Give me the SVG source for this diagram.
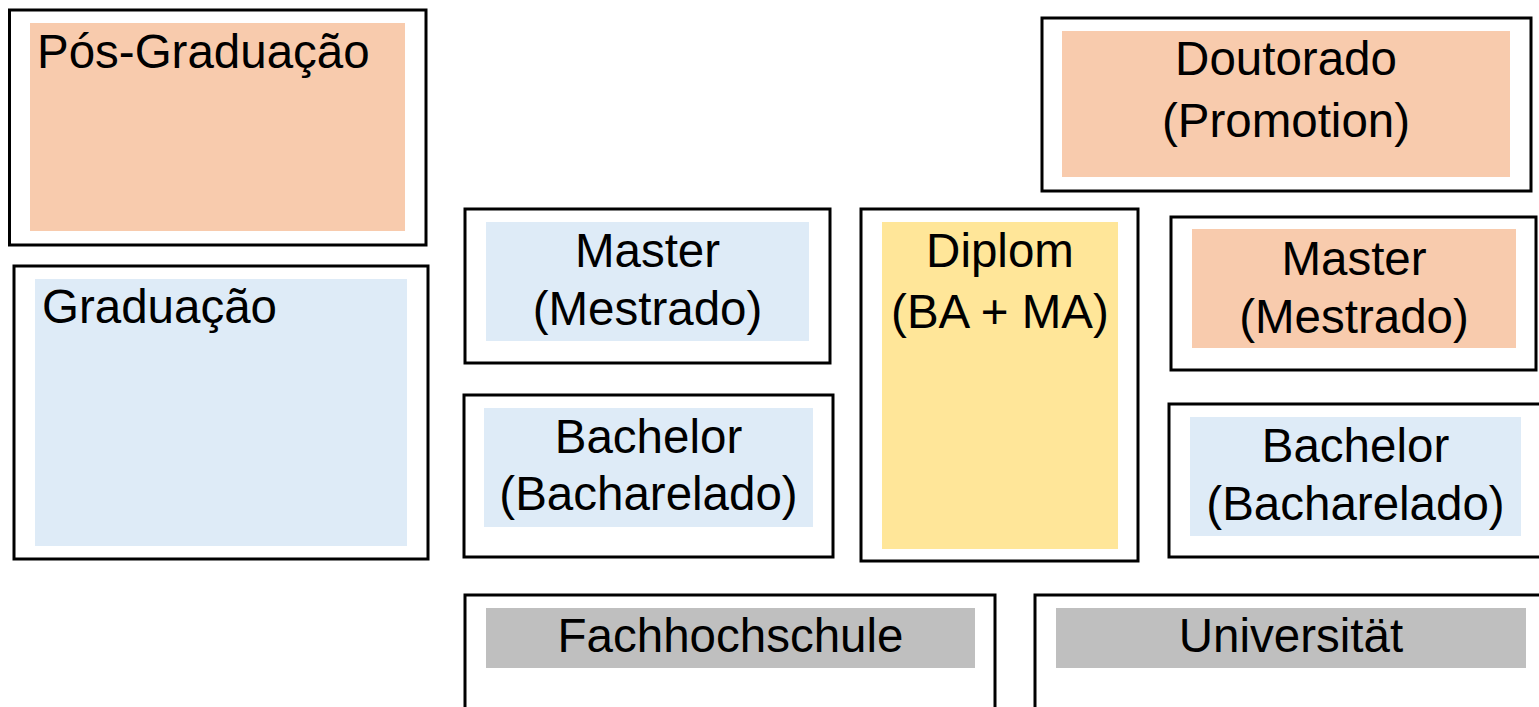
<svg xmlns="http://www.w3.org/2000/svg" width="1539" height="707" viewBox="0 0 1539 707">
<style>
.frame{fill:#ffffff;stroke:#000000;stroke-width:3}
.orange{fill:#F8CBAD}
.blue{fill:#DEEBF7}
.yellow{fill:#FFE699}
.gray{fill:#BFBFBF}
text{font-family:"Liberation Sans",Arial,sans-serif;font-size:47.5px;fill:#000000}
.c{text-anchor:middle}
</style>
<rect width="1539" height="707" fill="#ffffff"/>
<g id="pos-graduacao">
<rect class="frame" x="9.5" y="10" width="416.5" height="235"/>
<rect class="orange" x="30" y="23" width="375" height="208"/>
<text x="37" y="68">Pós-Graduação</text>
</g>
<g id="graduacao">
<rect class="frame" x="14" y="266" width="414" height="293"/>
<rect class="blue" x="35" y="279" width="372" height="267"/>
<text x="42" y="323">Graduação</text>
</g>
<g id="master-fh">
<rect class="frame" x="465" y="209" width="365" height="154"/>
<rect class="blue" x="486" y="222" width="323" height="119"/>
<text class="c" x="647.5" y="267">Master</text>
<text class="c" x="647.5" y="325">(Mestrado)</text>
</g>
<g id="bachelor-fh">
<rect class="frame" x="464" y="395" width="369" height="162"/>
<rect class="blue" x="484" y="408" width="329" height="119"/>
<text class="c" x="648.5" y="453">Bachelor</text>
<text class="c" x="648.5" y="510">(Bacharelado)</text>
</g>
<g id="diplom">
<rect class="frame" x="861" y="209" width="277" height="352"/>
<rect class="yellow" x="882" y="222" width="236" height="327"/>
<text class="c" x="1000" y="267">Diplom</text>
<text class="c" x="1000" y="328">(BA + MA)</text>
</g>
<g id="doutorado">
<rect class="frame" x="1042" y="18" width="489" height="173"/>
<rect class="orange" x="1062" y="31" width="448" height="146"/>
<text class="c" x="1286" y="75">Doutorado</text>
<text class="c" x="1286" y="137">(Promotion)</text>
</g>
<g id="master-uni">
<rect class="frame" x="1171" y="217" width="365" height="153"/>
<rect class="orange" x="1192" y="229" width="324" height="119"/>
<text class="c" x="1354" y="275">Master</text>
<text class="c" x="1354" y="333">(Mestrado)</text>
</g>
<g id="bachelor-uni">
<rect class="frame" x="1169" y="404" width="376" height="153"/>
<rect class="blue" x="1190" y="417" width="331" height="119"/>
<text class="c" x="1355.5" y="462">Bachelor</text>
<text class="c" x="1355.5" y="520">(Bacharelado)</text>
</g>
<g id="fachhochschule">
<rect class="frame" x="465" y="595" width="530" height="125"/>
<rect class="gray" x="486" y="608" width="489" height="60"/>
<text class="c" x="730.5" y="652">Fachhochschule</text>
</g>
<g id="universitaet">
<rect class="frame" x="1035" y="595" width="510" height="125"/>
<rect class="gray" x="1056" y="608" width="470" height="60"/>
<text class="c" x="1291" y="652">Universität</text>
</g>
<g id="connectors"></g>
</svg>
